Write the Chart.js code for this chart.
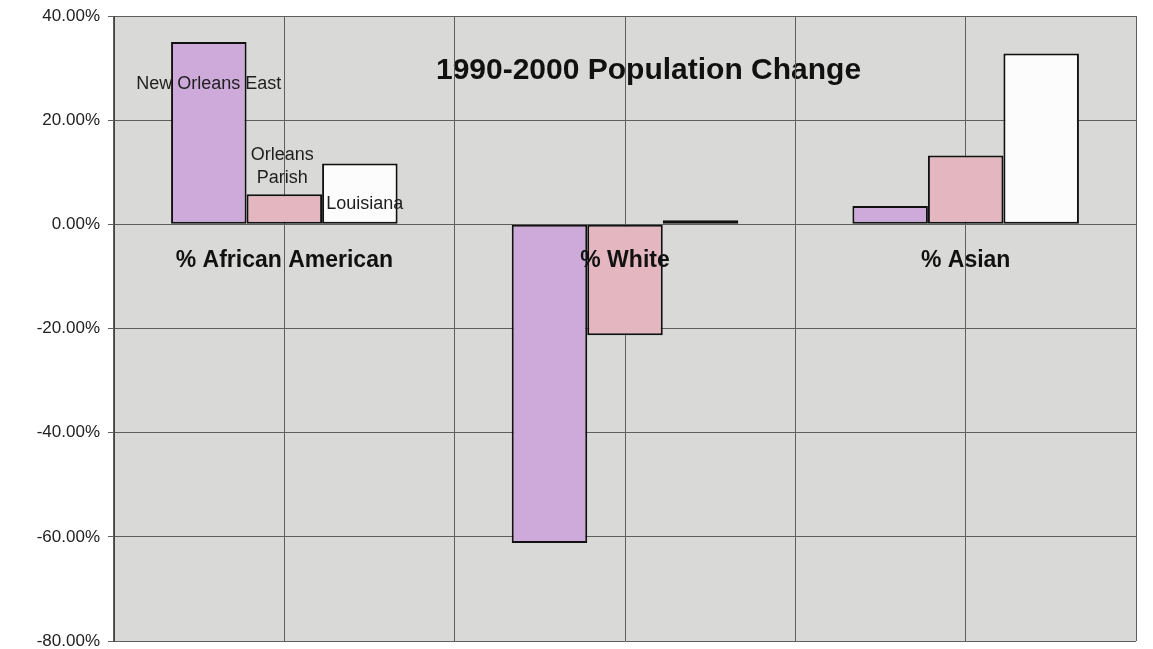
<!DOCTYPE html>
<html>
<head>
<meta charset="utf-8">
<title>1990-2000 Population Change</title>
<script src="https://cdn.jsdelivr.net/npm/chart.js@4.4.1/dist/chart.umd.min.js"></script>
<style>
  html, body { margin: 0; padding: 0; background: #ffffff; }
  #wrap { width: 1153px; height: 649px; }
</style>
</head>
<body>
<div id="wrap"><canvas id="c"></canvas></div>
<script>
// Percent change in population share, 1990 to 2000
const categories = ['% African American', '% White', '% Asian'];
const seriesNames = ['New Orleans East', 'Orleans Parish', 'Louisiana'];
const newOrleansEast = [35.0, -61.2, 3.5];
const orleansParish = [5.8, -21.3, 13.2];
const louisiana = [11.7, 0.8, 32.8];
const yTicks = [40, 20, 0, -20, -40, -60, -80];
const chartTitle = '1990-2000 Population Change';

const FONT = '"Liberation Sans", Arial, Helvetica, sans-serif';
const plotGray = '#d9d9d7';
const gridColor = '#5e5e5e';

// Page and plot-area backgrounds, plus the title inside the plot
const backdrop = {
  id: 'backdrop',
  beforeDraw(chart) {
    const { ctx, chartArea: a, width, height } = chart;
    ctx.save();
    ctx.fillStyle = '#ffffff';
    ctx.fillRect(0, 0, width, height);
    ctx.fillStyle = plotGray;
    ctx.fillRect(a.left, a.top, a.right - a.left, a.bottom - a.top);
    ctx.fillStyle = '#111111';
    ctx.font = 'bold 30px ' + FONT;
    ctx.textAlign = 'center';
    ctx.textBaseline = 'alphabetic';
    ctx.fillText(chartTitle, a.left + (a.right - a.left) * 0.523, a.top + 63);
    ctx.restore();
  }
};

// Series names written beside the bars of the first group
const seriesLabels = {
  id: 'seriesLabels',
  afterDatasetsDraw(chart) {
    const { ctx } = chart;
    const place = [
      { dx: 0, dy: 42, lines: [seriesNames[0]] },
      { dx: -2, dy: -39, lines: ['Orleans', 'Parish'] },
      { dx: 5, dy: 41, lines: [seriesNames[2]] }
    ];
    ctx.save();
    ctx.fillStyle = '#1e1e1e';
    ctx.font = '18px ' + FONT;
    ctx.textAlign = 'center';
    ctx.textBaseline = 'middle';
    place.forEach((p, i) => {
      const bar = chart.getDatasetMeta(i).data[0];
      p.lines.forEach((t, k) => {
        ctx.fillText(t, bar.x + p.dx, bar.y + p.dy + k * 23);
      });
    });
    ctx.restore();
  }
};

const barStyle = {
  borderColor: '#111111',
  borderWidth: 2,
  borderSkipped: false,
  categoryPercentage: 0.665,
  barPercentage: 1.0
};

// hidden helper axes take no room in the layout
const noRoom = s => { s.height = 0; s.paddingLeft = 0; s.paddingRight = 0; s.paddingTop = 0; s.paddingBottom = 0; };

new Chart(document.getElementById('c'), {
  type: 'bar',
  data: {
    labels: categories,
    datasets: [
      Object.assign({ label: seriesNames[0], data: newOrleansEast, backgroundColor: '#cdaad9' }, barStyle),
      Object.assign({ label: seriesNames[1], data: orleansParish, backgroundColor: '#e3b6c0' }, barStyle),
      Object.assign({ label: seriesNames[2], data: louisiana, backgroundColor: '#fcfcfc' }, barStyle)
    ]
  },
  options: {
    responsive: true,
    maintainAspectRatio: false,
    animation: false,
    layout: { padding: { top: 16, right: 17, bottom: 8, left: 0 } },
    plugins: {
      legend: { display: false },
      title: { display: false },
      tooltip: { enabled: false }
    },
    scales: {
      x: {
        type: 'category',
        offset: true,
        grid: { offset: true, color: gridColor, lineWidth: 1, drawTicks: false },
        border: { display: false },
        ticks: { display: false, padding: 0 },
        afterFit: noRoom
      },
      xMid: {
        type: 'category',
        axis: 'x',
        labels: categories,
        offset: true,
        position: 'bottom',
        grid: { offset: false, color: gridColor, lineWidth: 1, drawTicks: false },
        border: { display: false },
        ticks: { display: false, padding: 0 },
        afterFit: noRoom
      },
      xLab: {
        type: 'category',
        axis: 'x',
        labels: categories,
        offset: true,
        position: { y: 0 },
        grid: { display: false, drawTicks: false },
        border: { display: false },
        ticks: {
          z: 1,
          color: '#111111',
          font: { family: FONT, size: 23, weight: 'bold' },
          padding: 23,
          maxRotation: 0,
          autoSkip: false
        }
      },
      y: {
        min: -80,
        max: 40,
        afterBuildTicks(s) { s.ticks = yTicks.map(v => ({ value: v })); },
        afterFit(s) { s.width = 114; s.paddingTop = 0; s.paddingBottom = 0; },
        grid: { color: gridColor, lineWidth: 1, tickLength: 6, tickColor: gridColor },
        border: { color: '#444444', width: 1 },
        ticks: {
          color: '#222222',
          font: { family: FONT, size: 17 },
          padding: 8,
          callback: v => v.toFixed(2) + '%'
        }
      }
    }
  },
  plugins: [backdrop, seriesLabels]
});
</script>
</body>
</html>
